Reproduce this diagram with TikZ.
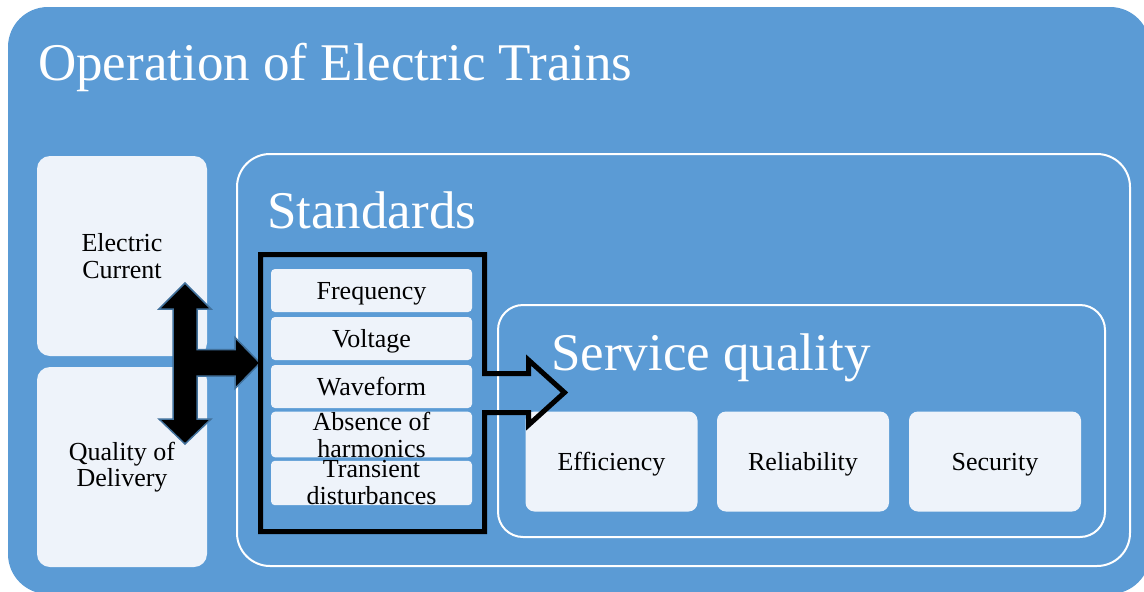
\documentclass[tikz,border=0pt]{standalone}
\usepackage{fontspec}
\setmainfont{Liberation Serif}
\definecolor{bgblue}{RGB}{91,155,213}
\definecolor{paleblue}{RGB}{238,243,250}
\definecolor{edgeblue}{RGB}{65,113,156}
\begin{document}
\begin{tikzpicture}[x=1pt,y=-1pt,
  bigtitle/.style={white, anchor=base west, inner sep=0, font=\fontsize{53}{60}\selectfont},
  sidebox/.style={fill=paleblue, rounded corners=13, minimum width=170, minimum height=200, align=center, inner sep=0, font=\fontsize{26}{26.7}\selectfont},
  itembox/.style={fill=paleblue, rounded corners=4, minimum width=201, minimum height=43, align=center, inner sep=0, font=\fontsize{26}{27}\selectfont},
  qualbox/.style={fill=paleblue, rounded corners=9, minimum width=172, minimum height=100, inner sep=0, font=\fontsize{26}{27}\selectfont},
  oneline/.style={text height=23.4, text depth=6.2},
  frame/.style={white, line width=2}]
\useasboundingbox (0,0) rectangle (1144,592);
\clip (0,0) rectangle (1144,592);
\fill[bgblue, rounded corners=40] (8,7) rectangle (1150,594);
\node[bigtitle] (otitle) at (38,80) {Operation of Electric Trains};
\node[sidebox] (elec) at (122,256) {Electric\\Current};
\node[sidebox] (qual) at (122,467) {Quality of\\Delivery};
\draw[frame, rounded corners=33] (237,154) rectangle (1130,566);
\node[bigtitle] (stitle) at (267,228) {Standards};
\node[itembox, oneline] (freq) at (371.5,290.5) {Frequency};
\node[itembox, oneline] (volt) at (371.5,338.5) {Voltage};
\node[itembox, oneline] (wave) at (371.5,386.5) {Waveform};
\node[itembox] (harm) at (371.5,434.5) {Absence of\\harmonics};
\node[itembox] (tran) at (371.5,483) {Transient\\disturbances};
\draw[frame, rounded corners=25] (498,305) rectangle (1105,537);
\node[bigtitle] (qtitle) at (551,370) {Service quality};
\node[qualbox, oneline] (effi) at (611.5,461.5) {Efficiency};
\node[qualbox, oneline] (reli) at (803,461.5) {Reliability};
\node[qualbox, oneline] (secu) at (995,461.5) {Security};
% arrow between the two side boxes, branching into the standards
\draw[edgeblue, fill=black, line width=1.5, line join=miter]
  (185,283) -- (211,309) -- (197,309) -- (197,349.5) -- (235,349.5) -- (235,337.5)
  -- (260,363) -- (235,388.5) -- (235,376) -- (197,376) -- (197,419) -- (211,419)
  -- (185,444) -- (159,419) -- (173,419) -- (173,309) -- (159,309) -- cycle;
% callout round the list of standards
\draw[black, line width=5, line join=miter]
  (260.5,254.5) -- (484.5,254.5) -- (484.5,373.5) -- (528.5,373.5) -- (528.5,360)
  -- (564.5,392.5) -- (528.5,425) -- (528.5,412.5) -- (484.5,412.5) -- (484.5,531.5)
  -- (260.5,531.5) -- cycle;
\end{tikzpicture}
\end{document}
